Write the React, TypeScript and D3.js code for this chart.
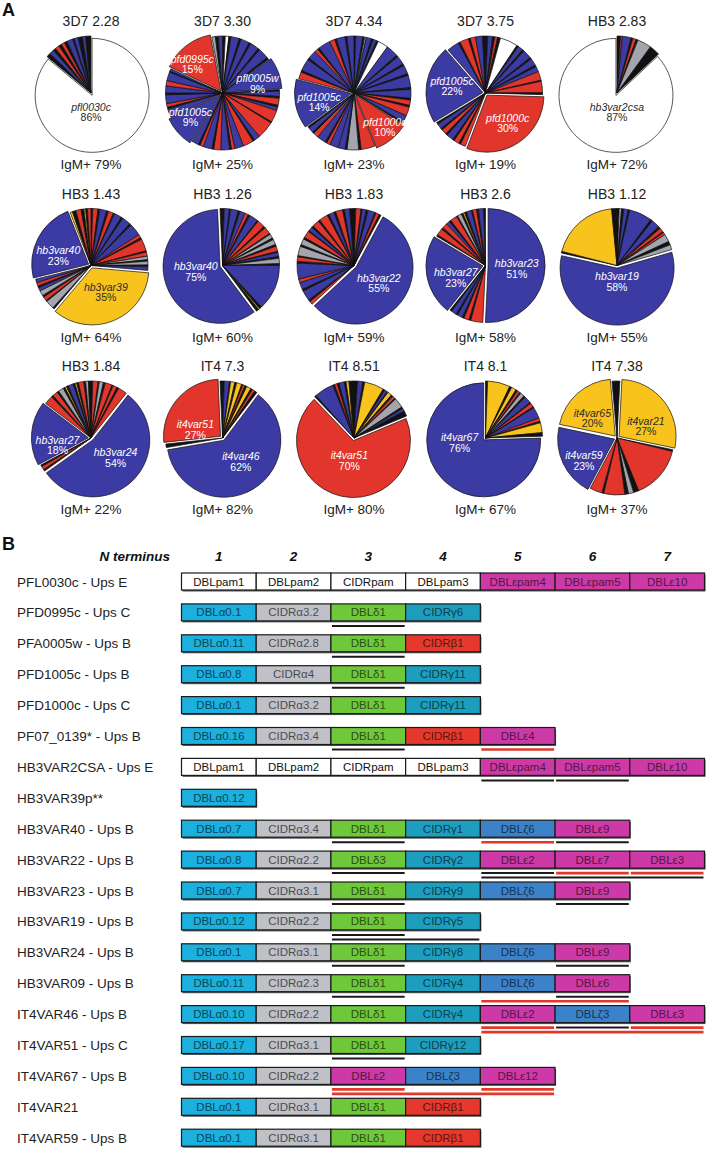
import React from 'react';
import * as d3 from 'd3';

type Slice = [string, number, string?, string?];

// ---------- panel A data ----------
const pieTitles = [
  '3D7 2.28', '3D7 3.30', '3D7 4.34', '3D7 3.75', 'HB3 2.83',
  'HB3 1.43', 'HB3 1.26', 'HB3 1.83', 'HB3 2.6', 'HB3 1.12',
  'HB3 1.84', 'IT4 7.3', 'IT4 8.51', 'IT4 8.1', 'IT4 7.38'
];
const igmPositive = [79, 25, 23, 19, 72, 64, 60, 59, 58, 55, 22, 82, 80, 67, 37];

const s3D7_228: Slice[] = [
  ['w', 86, 'pfl0030c', '86%'],
  ['k', 1.2], ['b', 1.3], ['k', 0.8], ['r', 1.2], ['k', 0.8], ['r', 1], ['k', 0.8],
  ['b', 1.7], ['k', 0.4], ['b', 1.2], ['k', 1.2], ['b', 0.9], ['k', 1.5]
];
const s3D7_330: Slice[] = [
  ['k', 0.8], ['w', 1], ['k', 0.6], ['b', 2.4], ['k', 0.5], ['b', 2.5], ['k', 0.5], ['b', 2.5], ['k', 0.5], ['b', 3], ['k', 0.7],
  ['b', 9, 'pfl0005w', '9%'],
  ['k', 0.5], ['b', 1.5], ['k', 0.5], ['r', 2], ['k', 0.5], ['b', 1],
  ['r', 3.5], ['k', 0.3], ['r', 5], ['b', 1.7], ['k', 0.5], ['r', 3],
  ['b', 2.5], ['r', 1], ['k', 0.5], ['b', 2.5], ['r', 2], ['k', 0.5], ['b', 2.5], ['r', 1], ['k', 0.5], ['b', 2],
  ['b', 9, 'pfd1005c', '9%'],
  ['b', 2.5], ['k', 0.5], ['r', 1], ['b', 2.5], ['k', 0.5], ['b', 2], ['r', 1.5], ['b', 2.5], ['k', 0.3], ['b', 0.7],
  ['r', 15, 'pfd0995c', '15%'],
  ['g', 1], ['k', 0.8], ['b', 1.2]
];
const s3D7_434: Slice[] = [
  ['k', 0.5], ['b', 2], ['k', 0.5], ['g', 0.5], ['b', 1.5], ['k', 0.5], ['b', 1], ['k', 0.5], ['w', 3],
  ['b', 3.5], ['k', 0.5], ['b', 2.5], ['k', 0.5], ['b', 2.5], ['k', 0.5], ['b', 3.5], ['k', 0.5], ['b', 2.5], ['k', 0.5],
  ['r', 1.5], ['k', 0.5], ['r', 2.5], ['b', 2], ['k', 0.5],
  ['r', 10, 'pfd1000c', '10%'],
  ['r', 4], ['k', 0.7], ['g', 3.3], ['k', 0.5], ['b', 2],
  ['b', 2.5], ['r', 1], ['k', 0.5], ['b', 2.5], ['r', 1.5], ['k', 0.5], ['b', 1.5], ['k', 0.5],
  ['b', 14, 'pfd1005c', '14%'],
  ['r', 2], ['k', 0.5], ['b', 3.5], ['k', 0.5], ['b', 2.5], ['r', 1], ['k', 0.5], ['b', 3.5], ['r', 1.5], ['k', 0.5],
  ['b', 2.5], ['k', 0.5], ['b', 2]
];
const s3D7_375: Slice[] = [
  ['k', 0.6], ['b', 1.4], ['k', 0.6], ['r', 0.8], ['k', 0.8], ['w', 5],
  ['k', 0.5], ['b', 1.5], ['k', 0.5], ['b', 2.5], ['k', 0.5], ['b', 2], ['k', 0.5], ['b', 1.5],
  ['r', 2.5], ['k', 0.3], ['r', 3.2], ['k', 0.5],
  ['r', 30, 'pfd1000c', '30%'],
  ['r', 1.5], ['k', 0.5], ['r', 1.5], ['k', 0.5], ['b', 2], ['k', 0.5], ['r', 1.5], ['k', 0.5], ['b', 1.5], ['k', 0.5],
  ['b', 22, 'pfd1005c', '22%'],
  ['b', 3.5], ['k', 0.5], ['r', 2.5], ['k', 0.5], ['r', 1.5], ['b', 2], ['k', 0.8]
];
const sHB3_283: Slice[] = [
  ['k', 1], ['r', 0.5], ['b', 2.5], ['k', 0.5], ['r', 1], ['k', 0.5], ['g', 4], ['k', 3],
  ['w', 87, 'hb3var2csa', '87%']
];
const sHB3_143: Slice[] = [
  ['k', 0.5], ['r', 1.5], ['k', 0.5], ['b', 2], ['k', 0.5], ['r', 1.5], ['k', 0.3], ['b', 2.2], ['k', 0.5], ['b', 2.5],
  ['k', 0.5], ['b', 3.5], ['r', 1], ['k', 0.5], ['r', 3.5], ['k', 0.3], ['r', 1.2], ['g', 1], ['k', 0.4], ['g', 1.1],
  ['k', 0.5], ['b', 1],
  ['y', 35, 'hb3var39', '35%'],
  ['k', 0.5], ['g', 2.5], ['k', 0.3], ['r', 1.2], ['k', 0.5], ['g', 1.5], ['b', 1], ['k', 0.5], ['r', 1], ['b', 1],
  ['b', 23, 'hb3var40', '23%'],
  ['y', 0.7], ['k', 1], ['r', 1.5], ['k', 0.8], ['y', 0.5], ['k', 0.5], ['r', 1]
];
const sHB3_126: Slice[] = [
  ['k', 0.5], ['b', 1.5], ['k', 0.3], ['b', 2.2], ['k', 0.5], ['b', 1.5], ['r', 1], ['k', 0.5], ['b', 2.5], ['k', 0.3],
  ['r', 2.2], ['k', 0.5], ['r', 2], ['k', 0.3], ['g', 1.2], ['k', 0.5], ['g', 1.5], ['k', 0.5], ['r', 1.5], ['k', 0.3],
  ['b', 1.2], ['k', 0.5], ['g', 1.5], ['k', 0.5],
  ['b', 13], ['k', 0.7], ['y', 0.4], ['k', 0.7],
  ['b', 59.5, 'hb3var40', '75%'],
  ['k', 0.7]
];
const sHB3_183: Slice[] = [
  ['k', 0.5], ['r', 1.5], ['k', 0.3], ['b', 1.2], ['k', 0.5], ['b', 2], ['k', 0.3], ['r', 1], ['k', 0.5],
  ['b', 55, 'hb3var22', '55%'],
  ['r', 1], ['k', 0.5], ['b', 3], ['k', 0.5], ['b', 2], ['r', 1],
  ['b', 4.5], ['k', 0.5], ['r', 1.3], ['k', 0.3], ['g', 2.7], ['k', 0.5], ['g', 1.7],
  ['k', 0.5], ['r', 2], ['k', 0.3], ['b', 1.2], ['k', 0.5], ['r', 2], ['k', 0.5], ['r', 2.5], ['k', 0.5], ['b', 1.5],
  ['k', 0.5], ['r', 2], ['k', 0.5], ['b', 1.5], ['k', 1.2]
];
const sHB3_26: Slice[] = [
  ['b', 51, 'hb3var23', '51%'],
  ['r', 3.5], ['k', 0.5], ['r', 1.5], ['k', 0.5], ['b', 1.5], ['k', 0.5], ['b', 1.5], ['k', 0.5],
  ['b', 23, 'hb3var27', '23%'],
  ['k', 0.5], ['r', 2], ['k', 0.5], ['r', 1.5], ['b', 1], ['k', 0.5], ['r', 2], ['k', 0.3], ['g', 1.2], ['k', 0.5],
  ['y', 0.5], ['k', 0.5], ['b', 1.5], ['k', 0.3], ['r', 1.2], ['k', 0.5], ['b', 1.5], ['k', 0.5]
];
const sHB3_112: Slice[] = [
  ['k', 0.6], ['g', 0.7], ['k', 0.6], ['b', 1.3], ['k', 0.4], ['b', 6.5], ['k', 0.6], ['b', 2.4], ['k', 0.6], ['r', 1.2],
  ['k', 0.3], ['r', 0.7], ['g', 2.2], ['k', 1], ['g', 1.4],
  ['b', 58, 'hb3var19', '58%'],
  ['k', 0.5], ['y', 19.5], ['k', 1.5]
];
const sHB3_184: Slice[] = [
  ['k', 0.5], ['r', 1.5], ['k', 0.3], ['g', 1.2], ['k', 0.5], ['r', 2], ['k', 0.3], ['r', 1.2], ['k', 0.5], ['r', 2.5],
  ['b', 54, 'hb3var24', '54%'],
  ['k', 0.5], ['r', 1], ['k', 0.5],
  ['b', 18, 'hb3var27', '18%'],
  ['r', 2.5], ['k', 0.5], ['r', 1.5], ['k', 0.5], ['g', 1.5], ['k', 0.5], ['y', 0.5], ['k', 0.5], ['b', 1.5], ['k', 0.5],
  ['y', 0.5], ['k', 0.5], ['r', 1.5], ['k', 0.5], ['g', 0.8], ['k', 0.7]
];
const sIT4_73: Slice[] = [
  ['k', 0.5], ['b', 1.5], ['k', 0.3], ['y', 1.2], ['k', 0.5], ['y', 1.5], ['k', 0.3], ['r', 0.7], ['k', 0.5], ['y', 1.3],
  ['k', 0.5], ['r', 0.8], ['k', 0.7],
  ['b', 62, 'it4var46', '62%'],
  ['k', 1],
  ['r', 26, 'it4var51', '27%'],
  ['k', 0.7]
];
const sIT4_851: Slice[] = [
  ['k', 1], ['b', 1.5], ['k', 0.5], ['y', 5.5], ['k', 0.5], ['b', 0.8], ['k', 0.3], ['y', 1.2], ['k', 0.5], ['r', 0.8],
  ['k', 0.3], ['g', 2.8], ['k', 0.5], ['b', 0.8], ['k', 1.5],
  ['r', 68.5, 'it4var51', '70%'],
  ['k', 0.5], ['b', 5.5], ['k', 0.5], ['r', 0.8], ['k', 0.5], ['b', 1.5], ['k', 0.5], ['y', 0.8], ['k', 1.4]
];
const sIT4_81: Slice[] = [
  ['k', 0.6], ['y', 6.4], ['k', 0.6], ['y', 1.4], ['k', 0.5], ['r', 0.8], ['k', 0.3], ['g', 1.2], ['k', 0.5], ['b', 2],
  ['k', 0.3], ['r', 1.2], ['k', 0.3], ['b', 3.2], ['r', 1], ['k', 0.4], ['y', 2.8], ['k', 1],
  ['b', 75.5, 'it4var67', '76%']
];
const sIT4_738: Slice[] = [
  ['k', 0.8],
  ['y', 27.5, 'it4var21', '27%'],
  ['k', 0.5], ['r', 15], ['k', 1.5], ['g', 1.5], ['k', 1], ['r', 6], ['k', 0.5], ['r', 3.5],
  ['b', 20.5, 'it4var59', '23%'],
  ['y', 20.3, 'it4var65', '20%'],
  ['k', 1.4]
];

const pieSlices = [
  s3D7_228, s3D7_330, s3D7_434, s3D7_375, sHB3_283,
  sHB3_143, sHB3_126, sHB3_183, sHB3_26, sHB3_112,
  sHB3_184, sIT4_73, sIT4_851, sIT4_81, sIT4_738
];

// label placement: [fraction of radius, degrees away from slice middle]
const labelPlace: Record<string, [number, number]> = {
  '3D7 2.28|pfl0030c': [0.33, 25],
  '3D7 3.30|pfl0005w': [0.64, 4],
  '3D7 3.30|pfd1005c': [0.7, 5],
  '3D7 3.30|pfd0995c': [0.74, -8],
  '3D7 4.34|pfd1000c': [0.8, -3],
  '3D7 4.34|pfd1005c': [0.63, -3],
  '3D7 3.75|pfd1000c': [0.65, -3],
  '3D7 3.75|pfd1005c': [0.6, 3],
  'HB3 2.83|hb3var2csa': [0.33, -23],
  'HB3 1.43|hb3var39': [0.53, -7],
  'HB3 1.43|hb3var40': [0.6, -10],
  'HB3 1.26|hb3var40': [0.48, 7],
  'HB3 1.83|hb3var22': [0.53, -3],
  'HB3 2.6|hb3var23': [0.55, 4],
  'HB3 2.6|hb3var27': [0.56, -11],
  'HB3 1.12|hb3var19': [0.28, 2],
  'HB3 1.84|hb3var24': [0.55, -8],
  'HB3 1.84|hb3var27': [0.6, -16],
  'IT4 7.3|it4var46': [0.52, -7],
  'IT4 7.3|it4var51': [0.5, -23],
  'IT4 8.51|it4var51': [0.4, 0],
  'IT4 8.1|it4var67': [0.46, 37],
  'IT4 7.38|it4var21': [0.55, 15],
  'IT4 7.38|it4var59': [0.7, -9],
  'IT4 7.38|it4var65': [0.56, -9]
};

const sliceColors: Record<string, string> = {
  b: '#3b3ba3',
  r: '#e2352b',
  y: '#f8c31d',
  g: '#a3a4ac',
  w: '#ffffff',
  k: '#111111'
};

// ---------- panel B data ----------
const columnNumbers = ['1', '2', '3', '4', '5', '6', '7'];
const geneNames = [
  'PFL0030c - Ups E', 'PFD0995c - Ups C', 'PFA0005w - Ups B', 'PFD1005c - Ups B', 'PFD1000c - Ups C',
  'PF07_0139* - Ups B', 'HB3VAR2CSA - Ups E', 'HB3VAR39p**', 'HB3VAR40 - Ups B', 'HB3VAR22 - Ups B',
  'HB3VAR23 - Ups B', 'HB3VAR19 - Ups B', 'HB3VAR24 - Ups B', 'HB3VAR09 - Ups B', 'IT4VAR46 - Ups B',
  'IT4VAR51 - Ups C', 'IT4VAR67 - Ups B', 'IT4VAR21', 'IT4VAR59 - Ups B'
];
const domainRows: string[][] = [
  ['DBLpam1', 'DBLpam2', 'CIDRpam', 'DBLpam3', 'DBLεpam4', 'DBLεpam5', 'DBLε10'],
  ['DBLα0.1', 'CIDRα3.2', 'DBLδ1', 'CIDRγ6'],
  ['DBLα0.11', 'CIDRα2.8', 'DBLδ1', 'CIDRβ1'],
  ['DBLα0.8', 'CIDRα4', 'DBLδ1', 'CIDRγ11'],
  ['DBLα0.1', 'CIDRα3.2', 'DBLδ1', 'CIDRγ11'],
  ['DBLα0.16', 'CIDRα3.4', 'DBLδ1', 'CIDRβ1', 'DBLε4'],
  ['DBLpam1', 'DBLpam2', 'CIDRpam', 'DBLpam3', 'DBLεpam4', 'DBLεpam5', 'DBLε10'],
  ['DBLα0.12'],
  ['DBLα0.7', 'CIDRα3.4', 'DBLδ1', 'CIDRγ1', 'DBLζ6', 'DBLε9'],
  ['DBLα0.8', 'CIDRα2.2', 'DBLδ3', 'CIDRγ2', 'DBLε2', 'DBLε7', 'DBLε3'],
  ['DBLα0.7', 'CIDRα3.1', 'DBLδ1', 'CIDRγ9', 'DBLζ6', 'DBLε9'],
  ['DBLα0.12', 'CIDRα2.2', 'DBLδ1', 'CIDRγ5'],
  ['DBLα0.1', 'CIDRα3.1', 'DBLδ1', 'CIDRγ8', 'DBLζ6', 'DBLε9'],
  ['DBLα0.11', 'CIDRα2.3', 'DBLδ1', 'CIDRγ4', 'DBLζ6', 'DBLε6'],
  ['DBLα0.10', 'CIDRα2.2', 'DBLδ1', 'CIDRγ4', 'DBLε2', 'DBLζ3', 'DBLε3'],
  ['DBLα0.17', 'CIDRα3.1', 'DBLδ1', 'CIDRγ12'],
  ['DBLα0.10', 'CIDRα2.2', 'DBLε2', 'DBLζ3', 'DBLε12'],
  ['DBLα0.1', 'CIDRα3.1', 'DBLδ1', 'CIDRβ1'],
  ['DBLα0.1', 'CIDRα3.1', 'DBLδ1', 'CIDRβ1']
];
// [row, level, first column, last column, colour]
const underlines: [number, number, number, number, string][] = [
  [1, 0, 2, 2, 'k'], [2, 0, 2, 2, 'k'], [3, 0, 2, 2, 'k'],
  [5, 0, 2, 2, 'k'], [5, 0, 4, 4, 'r'],
  [6, 0, 4, 4, 'k'], [6, 0, 5, 5, 'k'],
  [8, 0, 2, 2, 'k'], [8, 0, 4, 4, 'r'], [8, 0, 5, 5, 'k'],
  [9, 0, 2, 2, 'k'], [9, 0, 4, 4, 'k'], [9, 0, 5, 5, 'r'], [9, 0, 6, 6, 'r'], [9, 1, 4, 6, 'k'],
  [10, 0, 2, 2, 'k'], [10, 0, 5, 5, 'k'],
  [11, 0, 2, 2, 'k'], [11, 1, 2, 3, 'k'],
  [12, 0, 2, 2, 'k'], [12, 0, 5, 5, 'k'],
  [13, 0, 2, 2, 'k'], [13, 0, 5, 5, 'k'], [13, 1, 4, 5, 'r'],
  [14, 0, 4, 4, 'r'], [14, 0, 5, 5, 'k'], [14, 0, 6, 6, 'r'], [14, 1, 4, 6, 'r'],
  [15, 0, 2, 2, 'k'],
  [16, 0, 2, 2, 'r'], [16, 0, 4, 4, 'r'], [16, 1, 2, 4, 'r']
];

const FONT = '"Liberation Sans", Arial, Helvetica, sans-serif';
const R = 57;

const domainFill = (name: string) => {
  if (name.startsWith('DBLεpam')) return '#cd3aa8';
  if (name.includes('pam')) return '#ffffff';
  if (name.startsWith('DBLα')) return '#1cb0de';
  if (name.startsWith('CIDRα')) return '#c0c1c7';
  if (name.startsWith('DBLδ')) return '#6fc83a';
  if (name.startsWith('CIDRγ')) return '#1e9ebf';
  if (name.startsWith('CIDRβ')) return '#e6382c';
  if (name.startsWith('DBLε')) return '#cd3aa8';
  if (name.startsWith('DBLζ')) return '#3c82c9';
  return '#ffffff';
};

const PieChart = ({ title, igm, slices, cx, cy }: any) => {
  const pie = d3.pie<Slice>().value(d => d[1]).sort(null);
  const arcs = pie(slices);
  const arc = d3.arc<d3.PieArcDatum<Slice>>().innerRadius(0).outerRadius(R);
  const explode = 2.6;
  const ordered = [...arcs.filter(a => !a.data[2]), ...arcs.filter(a => a.data[2])];

  return (
    <g transform={`translate(${cx},${cy})`}>
      <text y={-67} textAnchor="middle" fontSize={14} fill="#222">{title}</text>
      {ordered.map((a, i) => {
        const mid = (a.startAngle + a.endAngle) / 2;
        const off = a.data[2] ? explode : 0;
        return (
          <path
            key={i}
            d={arc(a) || ''}
            transform={`translate(${Math.sin(mid) * off},${-Math.cos(mid) * off})`}
            fill={sliceColors[a.data[0]]}
            stroke="#111"
            strokeWidth={0.7}
            strokeLinejoin="round"
          />
        );
      })}
      {arcs.filter(a => a.data[2]).map((a, i) => {
        const [f, shift] = labelPlace[`${title}|${a.data[2]}`] || [0.55, 0];
        const ang = (a.startAngle + a.endAngle) / 2 + (shift * Math.PI) / 180;
        const x = Math.sin(ang) * R * f;
        const y = -Math.cos(ang) * R * f;
        const col = a.data[0] === 'w' || a.data[0] === 'y' ? '#2a2a2a' : '#ffffff';
        return (
          <g key={`l${i}`} fill={col} fontSize={10.5} textAnchor="middle">
            <text x={x} y={y - 1} fontStyle="italic">{a.data[2]}</text>
            <text x={x} y={y + 9.5}>{a.data[3]}</text>
          </g>
        );
      })}
      <text y={76} textAnchor="middle" fontSize={13.5} fill="#222">{`IgM+ ${igm}%`}</text>
    </g>
  );
};

const App = () => {
  const pieX = d3.scaleLinear().domain([0, 4]).range([91, 617]);
  const pieY = d3.scaleLinear().domain([0, 2]).range([93, 438]);

  const colX = d3.scaleBand<number>().domain(d3.range(7)).range([181.5, 704.5]).padding(0);
  const rowY = d3.scalePoint<string>().domain(geneNames).range([581.5, 1137.7]);
  const bw = colX.bandwidth();
  const boxH = 17;

  return (
    <svg
      width={706}
      height={1149}
      style={{ position: 'absolute', left: 0, top: 0, background: '#fff' }}
      fontFamily={FONT}
    >
      <rect width={706} height={1149} fill="#fff" />
      <text x={2} y={16} fontSize={18} fontWeight="bold" fill="#111">A</text>
      {pieTitles.map((t, i) => (
        <PieChart
          key={t}
          title={t}
          igm={igmPositive[i]}
          slices={pieSlices[i]}
          cx={pieX(i % 5)}
          cy={pieY(Math.floor(i / 5))}
        />
      ))}

      <text x={2} y={550} fontSize={18} fontWeight="bold" fill="#111">B</text>
      <text x={170} y={561} textAnchor="end" fontSize={13.5} fontWeight="bold" fontStyle="italic" fill="#111">
        N terminus
      </text>
      {columnNumbers.map((n, i) => (
        <text key={n} x={(colX(i) || 0) + bw / 2} y={561} textAnchor="middle" fontSize={13.5}
          fontWeight="bold" fontStyle="italic" fill="#111">
          {n}
        </text>
      ))}

      {geneNames.map((g, r) => {
        const y = rowY(g) || 0;
        const doms = domainRows[r];
        return (
          <g key={g}>
            <text x={17} y={y + 5} fontSize={13.5} fill="#222">{g}</text>
            <rect x={colX(0)! + 1} y={y - boxH / 2 + 1.5} width={bw * doms.length} height={boxH} fill="#555" />
            {doms.map((d, c) => {
              const fill = domainFill(d);
              const txt = fill === '#ffffff' ? '#111' : d3.color(fill)!.darker(2.6).formatHex();
              return (
                <g key={c}>
                  <rect x={colX(c)} y={y - boxH / 2} width={bw} height={boxH} fill={fill}
                    stroke="#1a1a1a" strokeWidth={1.2} />
                  <text x={(colX(c) || 0) + bw / 2} y={y + 4} textAnchor="middle" fontSize={11.5} fill={txt}>
                    {d}
                  </text>
                </g>
              );
            })}
          </g>
        );
      })}

      {underlines.map(([r, lvl, c0, c1, col], i) => {
        const y = (rowY(geneNames[r]) || 0) + 13.5 + lvl * 4.5;
        return (
          <line key={i}
            x1={(colX(c0) || 0) + 1}
            x2={(colX(c1) || 0) + bw - 1}
            y1={y}
            y2={y}
            stroke={col === 'r' ? '#e2382b' : '#1a1a1a'}
            strokeWidth={col === 'r' ? 2.6 : 2}
          />
        );
      })}
    </svg>
  );
};

export default App;
